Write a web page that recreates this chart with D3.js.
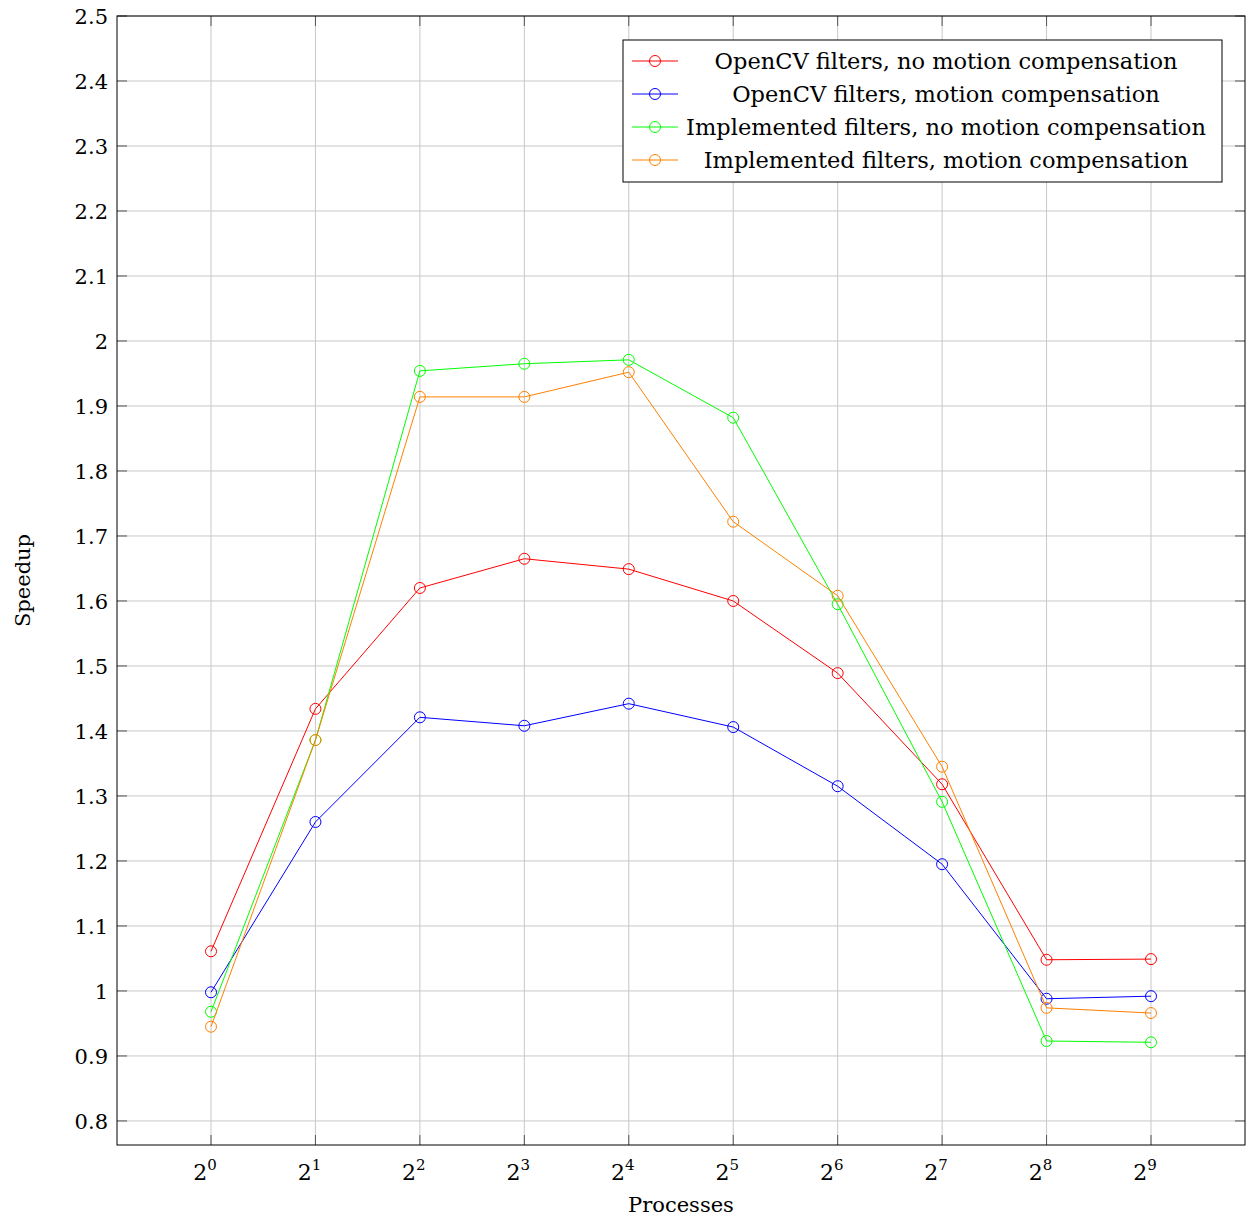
<!DOCTYPE html>
<html>
<head>
<meta charset="utf-8">
<script src="https://cdn.jsdelivr.net/npm/d3@7"></script>
<style>
  body { margin: 0; background: #fff; }
  text { font-family: "DejaVu Serif", "Liberation Serif", serif; }
</style>
</head>
<body>
<div id="chart"></div>
<script>
const processes = [1, 2, 4, 8, 16, 32, 64, 128, 256, 512];
const yTicks = [0.8, 0.9, 1, 1.1, 1.2, 1.3, 1.4, 1.5, 1.6, 1.7, 1.8, 1.9, 2, 2.1, 2.2, 2.3, 2.4, 2.5];

const opencvNoMc = [1.061, 1.434, 1.620, 1.665, 1.649, 1.600, 1.489, 1.318, 1.048, 1.049];
const opencvMc = [0.998, 1.260, 1.421, 1.408, 1.442, 1.406, 1.315, 1.195, 0.988, 0.992];
const implNoMc = [0.968, 1.386, 1.954, 1.965, 1.971, 1.882, 1.595, 1.291, 0.923, 0.921];
const implMc = [0.945, 1.386, 1.914, 1.914, 1.952, 1.722, 1.608, 1.345, 0.974, 0.966];

const seriesNames = [
    "OpenCV filters, no motion compensation",
    "OpenCV filters, motion compensation",
    "Implemented filters, no motion compensation",
    "Implemented filters, motion compensation"
];
const seriesColors = ["#ff0000", "#0000ff", "#00ff00", "#ff8000"];
const seriesValues = [opencvNoMc, opencvMc, implNoMc, implMc];

const width = 1247;
const height = 1218;
const margin = { left: 117, right: 2, top: 16, bottom: 73 };

const svg = d3.select("#chart").append("svg")
    .attr("width", width)
    .attr("height", height);

const xScale = d3.scaleLog().base(2)
    .domain([Math.pow(2, -0.9), Math.pow(2, 9.9)])
    .range([margin.left, width - margin.right]);

const yScale = d3.scaleLinear()
    .domain([0.763, 2.5])
    .range([height - margin.bottom, margin.top]);

const x0 = margin.left, x1 = width - margin.right;
const y0 = height - margin.bottom, y1 = margin.top;

// grid
svg.append("g").selectAll("line.v")
    .data(processes)
    .join("line")
    .attr("x1", d => xScale(d)).attr("x2", d => xScale(d))
    .attr("y1", y0).attr("y2", y1)
    .attr("stroke", "#c8c8c8").attr("stroke-width", 1);

svg.append("g").selectAll("line.h")
    .data(yTicks)
    .join("line")
    .attr("x1", x0).attr("x2", x1)
    .attr("y1", d => yScale(d)).attr("y2", d => yScale(d))
    .attr("stroke", "#c8c8c8").attr("stroke-width", 1);

// inward ticks on all sides
const tickLen = 10;
const ticks = svg.append("g").attr("stroke", "#555").attr("stroke-width", 1);
processes.forEach(d => {
    ticks.append("line").attr("x1", xScale(d)).attr("x2", xScale(d)).attr("y1", y0).attr("y2", y0 - tickLen);
    ticks.append("line").attr("x1", xScale(d)).attr("x2", xScale(d)).attr("y1", y1).attr("y2", y1 + tickLen);
});
yTicks.forEach(d => {
    ticks.append("line").attr("x1", x0).attr("x2", x0 + tickLen).attr("y1", yScale(d)).attr("y2", yScale(d));
    ticks.append("line").attr("x1", x1).attr("x2", x1 - tickLen).attr("y1", yScale(d)).attr("y2", yScale(d));
});

// series
const line = d3.line()
    .x((d, i) => xScale(processes[i]))
    .y(d => yScale(d));

seriesValues.forEach((vals, k) => {
    const g = svg.append("g");
    g.append("path")
        .datum(vals)
        .attr("d", line)
        .attr("fill", "none")
        .attr("stroke", seriesColors[k])
        .attr("stroke-width", 1);
    g.selectAll("circle")
        .data(vals)
        .join("circle")
        .attr("cx", (d, i) => xScale(processes[i]))
        .attr("cy", d => yScale(d))
        .attr("r", 5.5)
        .attr("fill", "none")
        .attr("stroke", seriesColors[k])
        .attr("stroke-width", 1);
});

// frame
svg.append("rect")
    .attr("x", x0).attr("y", y1)
    .attr("width", x1 - x0).attr("height", y0 - y1)
    .attr("fill", "none").attr("stroke", "#000").attr("stroke-width", 1);

// tick labels
svg.append("g").selectAll("text")
    .data(yTicks)
    .join("text")
    .attr("x", x0 - 9)
    .attr("y", d => yScale(d) + 8)
    .attr("text-anchor", "end")
    .attr("font-size", 21)
    .text(d => d3.format("~g")(d));

const xl = svg.append("g").selectAll("text")
    .data(processes)
    .join("text")
    .attr("x", d => xScale(d) - 6)
    .attr("y", y0 + 35)
    .attr("text-anchor", "middle")
    .attr("font-size", 22);
xl.append("tspan").text("2");
xl.append("tspan")
    .attr("font-size", 15)
    .attr("dy", -10)
    .text(d => Math.log2(d));

// axis labels
svg.append("text")
    .attr("x", (x0 + x1) / 2)
    .attr("y", 1212)
    .attr("text-anchor", "middle")
    .attr("font-size", 21)
    .text("Processes");

svg.append("text")
    .attr("transform", `translate(30, ${(y0 + y1) / 2}) rotate(-90)`)
    .attr("text-anchor", "middle")
    .attr("font-size", 21)
    .text("Speedup");

// legend
const legend = svg.append("g").attr("transform", "translate(623, 40)");
legend.append("rect")
    .attr("width", 599).attr("height", 142)
    .attr("fill", "#fff").attr("stroke", "#000").attr("stroke-width", 1);

seriesNames.forEach((name, k) => {
    const cy = 21 + k * 33;
    legend.append("line")
        .attr("x1", 9).attr("x2", 55)
        .attr("y1", cy).attr("y2", cy)
        .attr("stroke", seriesColors[k]).attr("stroke-width", 1);
    legend.append("circle")
        .attr("cx", 32).attr("cy", cy).attr("r", 5.5)
        .attr("fill", "none").attr("stroke", seriesColors[k]).attr("stroke-width", 1);
    legend.append("text")
        .attr("x", 323).attr("y", cy + 8)
        .attr("text-anchor", "middle")
        .attr("font-size", 22.5)
        .text(name);
});
</script>
</body>
</html>
